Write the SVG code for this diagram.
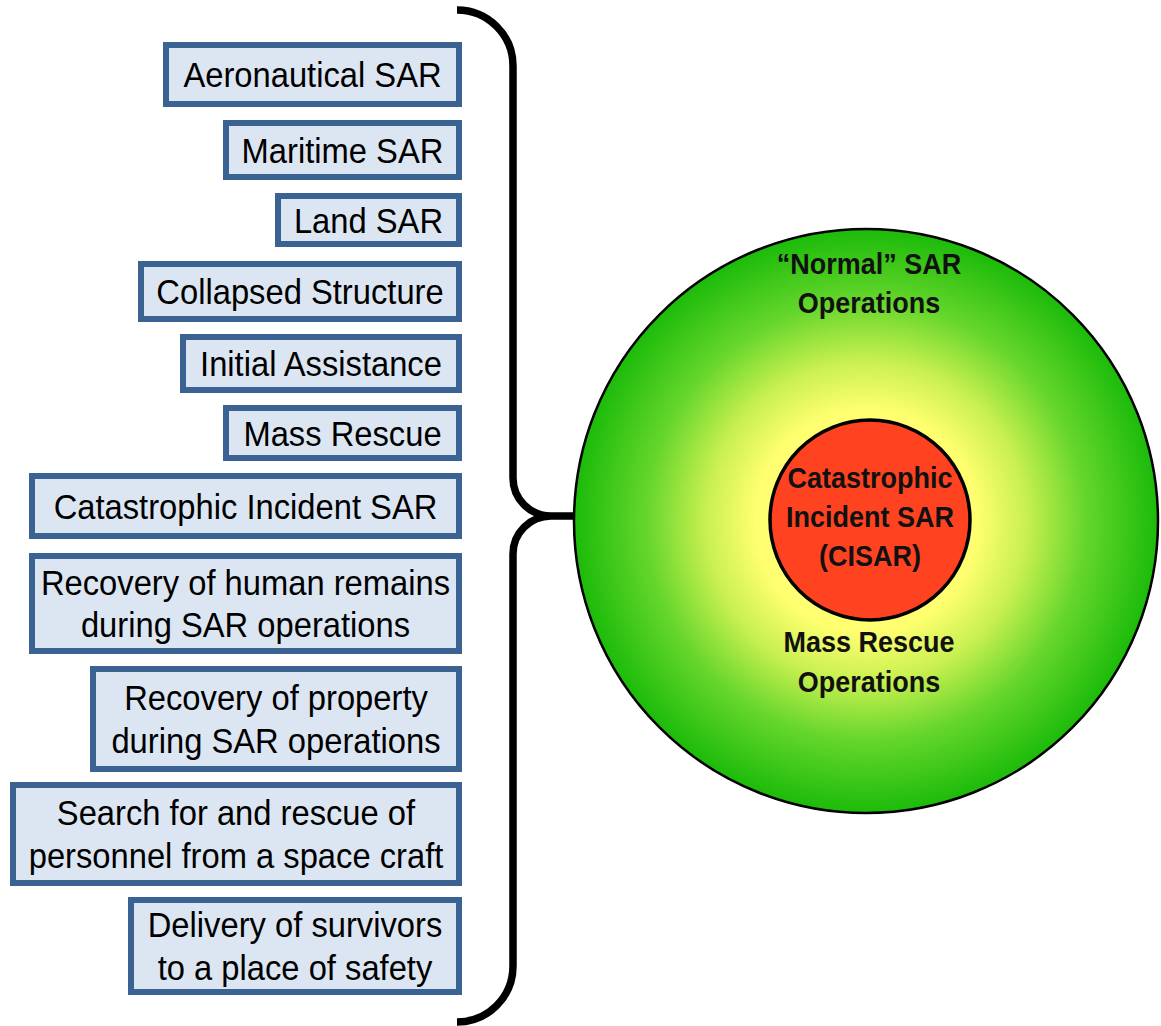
<svg xmlns="http://www.w3.org/2000/svg" width="1161" height="1026" viewBox="0 0 1161 1026">
  <defs>
    <radialGradient id="ringFill" cx="0.5" cy="0.5" r="0.5">
      <stop offset="0" stop-color="#FFFF80"/>
      <stop offset="0.38" stop-color="#FFFF70"/>
      <stop offset="0.55" stop-color="#C8F050"/>
      <stop offset="0.75" stop-color="#66D62C"/>
      <stop offset="1" stop-color="#1CBB0A"/>
    </radialGradient>
    <style>
      .box { fill: #DCE6F2; stroke: #3A6292; stroke-width: 6; }
      .lbl { font-family: "Liberation Sans", Arial, sans-serif; font-size: 35px; fill: #000; text-anchor: middle; }
      .clbl { font-family: "Liberation Sans", Arial, sans-serif; font-size: 30px; font-weight: bold; fill: #111; text-anchor: middle; }
      .brace { fill: none; stroke: #000; stroke-width: 7.5; stroke-linecap: butt; }
    </style>
  </defs>

  <rect width="1161" height="1026" fill="#FFFFFF"/>

  <!-- SAR categories, right-aligned boxes -->
  <g id="aeronautical">
    <rect class="box" x="166" y="45" width="293" height="59"/>
    <text class="lbl" transform="translate(312.5 87) scale(0.935 1)">Aeronautical SAR</text>
  </g>
  <g id="maritime">
    <rect class="box" x="226" y="123" width="233" height="54"/>
    <text class="lbl" transform="translate(342.5 162.5) scale(0.935 1)">Maritime SAR</text>
  </g>
  <g id="land">
    <rect class="box" x="278" y="196" width="181" height="48"/>
    <text class="lbl" transform="translate(368.5 232.5) scale(0.935 1)">Land SAR</text>
  </g>
  <g id="collapsed-structure">
    <rect class="box" x="141" y="264" width="318" height="55"/>
    <text class="lbl" transform="translate(300 304) scale(0.935 1)">Collapsed Structure</text>
  </g>
  <g id="initial-assistance">
    <rect class="box" x="183" y="337" width="276" height="53"/>
    <text class="lbl" transform="translate(321 376) scale(0.935 1)">Initial Assistance</text>
  </g>
  <g id="mass-rescue">
    <rect class="box" x="226" y="408" width="233" height="50"/>
    <text class="lbl" transform="translate(342.5 445.5) scale(0.935 1)">Mass Rescue</text>
  </g>
  <g id="catastrophic-incident">
    <rect class="box" x="32" y="476" width="427" height="60"/>
    <text class="lbl" transform="translate(245.5 518.5) scale(0.935 1)">Catastrophic Incident SAR</text>
  </g>
  <g id="human-remains">
    <rect class="box" x="32" y="556" width="427" height="95"/>
    <text class="lbl" transform="translate(245.5 594.5) scale(0.935 1)"><tspan x="0" y="0">Recovery of human remains</tspan><tspan x="0" y="43">during SAR operations</tspan></text>
  </g>
  <g id="property">
    <rect class="box" x="93" y="669" width="366" height="100"/>
    <text class="lbl" transform="translate(276 710) scale(0.935 1)"><tspan x="0" y="0">Recovery of property</tspan><tspan x="0" y="43">during SAR operations</tspan></text>
  </g>
  <g id="space-craft">
    <rect class="box" x="13" y="785" width="446" height="98"/>
    <text class="lbl" transform="translate(236 825) scale(0.935 1)"><tspan x="0" y="0">Search for and rescue of</tspan><tspan x="0" y="43">personnel from a space craft</tspan></text>
  </g>
  <g id="delivery">
    <rect class="box" x="131" y="900" width="328" height="92"/>
    <text class="lbl" transform="translate(295 937) scale(0.935 1)"><tspan x="0" y="0">Delivery of survivors</tspan><tspan x="0" y="43">to a place of safety</tspan></text>
  </g>

  <!-- curly brace joining the list to the circle -->
  <g id="connectors">
    <path class="brace" d="M457,10 A56,56 0 0 1 513,66 L513,478 A38,38 0 0 0 551,516 L573,516 M551,516 A38,38 0 0 0 513,554 L513,966 A56,56 0 0 1 457,1022"/>
  </g>

  <!-- nested operations circles -->
  <g id="sar-operations">
    <circle cx="866" cy="521" r="292" fill="url(#ringFill)" stroke="#000" stroke-width="2.5"/>
    <text class="clbl" transform="translate(869 274) scale(0.9 1)"><tspan x="0" y="0">“Normal” SAR</tspan><tspan x="0" y="39">Operations</tspan></text>
    <text class="clbl" transform="translate(869 652) scale(0.9 1)"><tspan x="0" y="0">Mass Rescue</tspan><tspan x="0" y="40">Operations</tspan></text>
  </g>
  <g id="cisar">
    <circle cx="870" cy="520" r="100" fill="#FF4320" stroke="#000" stroke-width="3.5"/>
    <text class="clbl" transform="translate(870 488) scale(0.9 1)"><tspan x="0" y="0">Catastrophic</tspan><tspan x="0" y="39">Incident SAR</tspan><tspan x="0" y="78">(CISAR)</tspan></text>
  </g>
</svg>
